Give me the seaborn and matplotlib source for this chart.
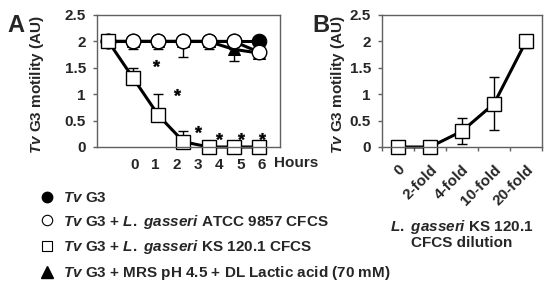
import numpy as np
import matplotlib
matplotlib.use("Agg")
import matplotlib.pyplot as plt
import seaborn as sns
from matplotlib.lines import Line2D

sns.set_style("white")
plt.rcParams['font.family'] = ['Liberation Sans', 'DejaVu Sans']
plt.rcParams['font.weight'] = 'bold'
plt.rcParams['axes.labelweight'] = 'bold'
plt.rcParams['mathtext.fontset'] = 'custom'
plt.rcParams['mathtext.it'] = 'Liberation Sans:italic:bold'
plt.rcParams['mathtext.rm'] = 'Liberation Sans:bold'
plt.rcParams['mathtext.bf'] = 'Liberation Sans:bold'

# panel A data (hours 0..6)
hours = [0, 1, 2, 3, 4, 5, 6]
tv_g3 = [2, 2, 2, 2, 2, 2, 2]
atcc = [2, 2, 2, 2, 2, 2, 1.8]
atcc_err = [0, 0.15, 0.15, 0.3, 0.15, 0.15, 0.05]
ks = [2, 1.3, 0.6, 0.1, 0, 0, 0]
ks_err = [0, 0.2, 0.4, 0.2, 0, 0, 0]
mrs = [2, 2, 2, 2, 2, 1.85, 1.78]
mrs_err = [0, 0, 0, 0, 0, 0.23, 0.05]
star_hours = [1, 2, 3, 4, 5, 6]
star_y = [1.6, 1.04, 0.35, 0.2, 0.2, 0.2]

# panel B data
dilutions = ['0', '2-fold', '4-fold', '10-fold', '20-fold']
motility_b = [0, 0, 0.3, 0.82, 2.0]
err_b = [0, 0, 0.25, 0.5, 0.13]

legend_labels = [
    r'$\mathit{Tv}$ G3',
    r'$\mathit{Tv}$ G3 + $\mathit{L.\ gasseri}$ ATCC 9857 CFCS',
    r'$\mathit{Tv}$ G3 + $\mathit{L.\ gasseri}$ KS 120.1 CFCS',
    r'$\mathit{Tv}$ G3 + MRS pH 4.5 + DL Lactic acid (70 mM)',
]

fs = 11

fig = plt.figure(figsize=(5.5, 2.89), dpi=100)
axA = fig.add_axes([97/550, 1-147/289, 183/550, 132/289])
axB = fig.add_axes([382/550, 1-147/289, 160/550, 132/289])

lw = 2.2
edge = '#606060'

# panel A
axA.errorbar(hours, mrs, yerr=[mrs_err, np.zeros(7)], fmt='none', ecolor='black',
             elinewidth=1, capsize=3.5, capthick=1, clip_on=False)
sns.lineplot(x=hours, y=mrs, ax=axA, color='black', linewidth=lw, marker='^',
             markersize=9, markerfacecolor='black', markeredgecolor='black', clip_on=False)
sns.lineplot(x=hours, y=tv_g3, ax=axA, color='black', linewidth=lw, marker='o',
             markersize=10.5, markerfacecolor='black', markeredgecolor='black', clip_on=False)
axA.errorbar(hours, atcc, yerr=[atcc_err, np.zeros(7)], fmt='none', ecolor='black',
             elinewidth=1, capsize=3.5, capthick=1, clip_on=False)
sns.lineplot(x=hours, y=atcc, ax=axA, color='black', linewidth=lw, marker='o',
             markersize=10.5, markerfacecolor='white', markeredgecolor='black',
             markeredgewidth=1, clip_on=False)
axA.errorbar(hours, ks, yerr=[np.zeros(7), ks_err], fmt='none', ecolor='black',
             elinewidth=1, capsize=3.5, capthick=1, clip_on=False)
sns.lineplot(x=hours, y=ks, ax=axA, color='black', linewidth=lw, marker='s',
             markersize=10, markerfacecolor='white', markeredgecolor='black',
             markeredgewidth=1, clip_on=False)

axA.set_xlim(-0.45, 6.85)
axA.set_ylim(0, 2.5)
axA.set_yticks([0, 0.5, 1, 1.5, 2, 2.5])
axA.set_yticklabels(['0', '0.5', '1', '1.5', '2', '2.5'])
axA.set_xticks([])
axA.set_ylabel(r'$\mathit{Tv}$ G3 motility (AU)', fontsize=fs)
axA.yaxis.set_label_coords(-0.279, 0.47)

# hour labels and stars sit on their own scale
axT = axA.twiny()
axT.set_xlim(-1.75, 6.84)
axT.set_ylim(0, 2.5)
axT.xaxis.set_ticks_position('bottom')
axT.xaxis.set_label_position('bottom')
axT.set_xticks(hours)
axT.set_xticklabels([str(h) for h in hours])
axT.tick_params(axis='x', length=0, pad=8, labelsize=fs)
axT.plot(star_hours, star_y, linestyle='none', marker='$*$', markersize=5,
         color='black', markeredgewidth=0.3, clip_on=False)
for s in axT.spines.values():
    s.set_visible(False)
fig.text(274/550, 1-163/289, 'Hours', fontsize=fs, va='center', ha='left')

# panel B
axB.errorbar(range(len(dilutions)), motility_b, yerr=err_b, fmt='none', ecolor='black',
             elinewidth=1, capsize=3.5, capthick=1, clip_on=False)
sns.lineplot(x=dilutions, y=motility_b, ax=axB, sort=False, color='black', linewidth=lw,
             marker='s', markersize=9.5, markerfacecolor='white', markeredgecolor='black',
             markeredgewidth=1, clip_on=False)
axB.set_xlim(-0.5, 4.5)
axB.set_ylim(0, 2.5)
axB.set_yticks([0, 0.5, 1, 1.5, 2, 2.5])
axB.set_yticklabels(['0', '0.5', '1', '1.5', '2', '2.5'])
axB.set_xticks(range(len(dilutions)))
axB.set_xticklabels(dilutions, rotation=45, ha='right', rotation_mode='anchor')
axB.set_xticks(np.arange(-0.5, 4.6, 1), minor=True)
axB.tick_params(axis='x', which='major', length=0, pad=11)
axB.tick_params(axis='x', which='minor', bottom=True, length=3, width=1, color=edge)
axB.set_ylabel(r'$\mathit{Tv}$ G3 motility (AU)', fontsize=fs)
axB.yaxis.set_label_coords(-0.219, 0.47)
axB.set_xlabel('$\\mathit{L.\\ gasseri}$ KS 120.1\nCFCS dilution', fontsize=fs,
               labelpad=7, linespacing=1.05)

for ax in (axA, axB):
    ax.tick_params(axis='y', left=True, length=3, width=1, pad=5, labelsize=fs, color=edge)
    ax.tick_params(axis='x', labelsize=fs)
    for s in ax.spines.values():
        s.set_color(edge)
        s.set_linewidth(1)

# legend
handles = [
    Line2D([], [], linestyle='none', marker='o', markersize=7.5, markerfacecolor='black',
           markeredgecolor='black'),
    Line2D([], [], linestyle='none', marker='o', markersize=7.5, markerfacecolor='white',
           markeredgecolor='black', markeredgewidth=0.8),
    Line2D([], [], linestyle='none', marker='s', markersize=7, markerfacecolor='white',
           markeredgecolor='black', markeredgewidth=0.8),
    Line2D([], [], linestyle='none', marker='^', markersize=8, markerfacecolor='black',
           markeredgecolor='black'),
]
fig.legend(handles, legend_labels, loc='upper left', bbox_to_anchor=(39.8/550, 1-191/289),
           frameon=False, fontsize=fs, handlelength=0.9, handletextpad=0.6,
           labelspacing=0.5, borderpad=0, borderaxespad=0)

fig.text(7/550, 1-32/289, 'A', fontsize=17, fontweight='bold', va='baseline')
fig.text(312/550, 1-32/289, 'B', fontsize=17, fontweight='bold', va='baseline')

fig.savefig('out.png', dpi=100)
